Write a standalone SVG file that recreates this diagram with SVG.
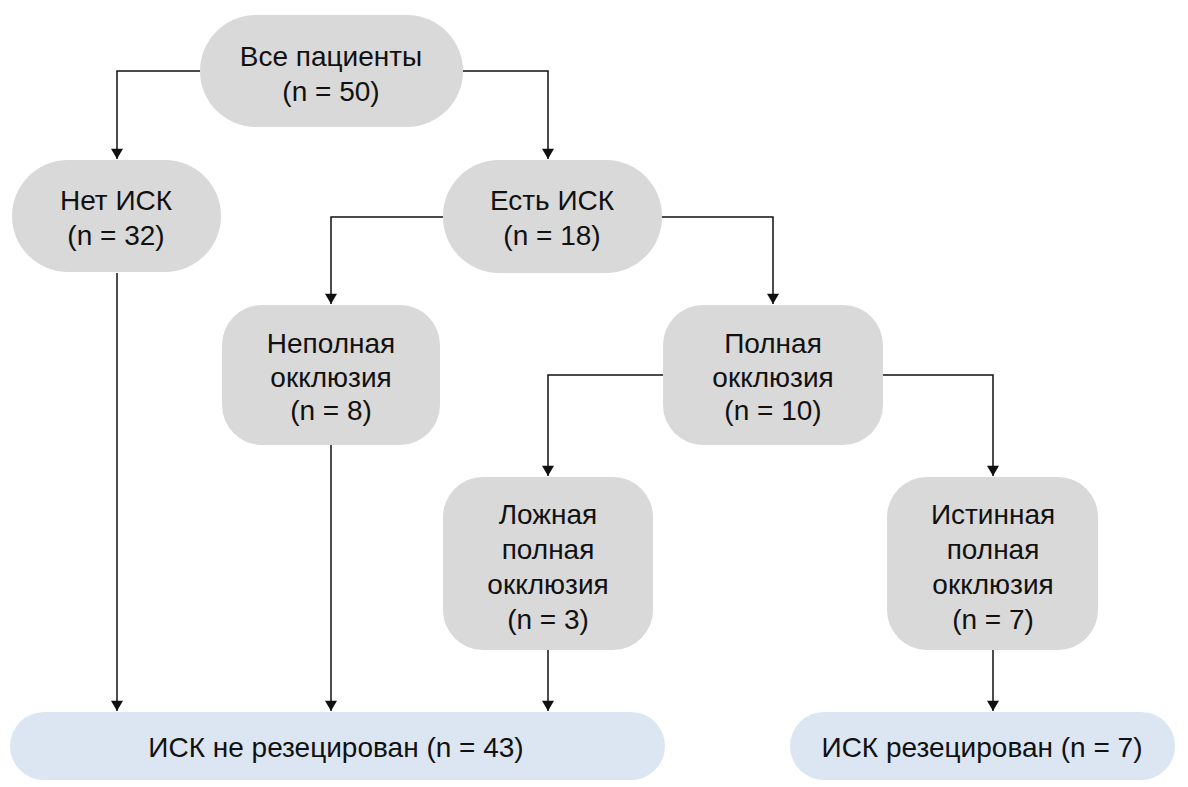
<svg xmlns="http://www.w3.org/2000/svg" width="1188" height="787" viewBox="0 0 1188 787">
<style>
.g{fill:#d9d9d9}
.b{fill:#dce6f2}
text{font-family:"Liberation Sans",Arial,sans-serif;font-size:28px;fill:#111;text-anchor:middle}
.c{fill:none;stroke:#111;stroke-width:1.5}
</style>
<defs>
<marker id="a" viewBox="0 0 12 14" refX="12" refY="7" markerWidth="14" markerHeight="12" markerUnits="userSpaceOnUse" orient="auto">
<path d="M0,0L12,7L0,14Z" fill="#111"/>
</marker>
</defs>
<rect width="1188" height="787" fill="#fff"/>
<g id="connectors">
<path class="c" d="M200,71H117V159" marker-end="url(#a)"/>
<path class="c" d="M463,71H548V159" marker-end="url(#a)"/>
<path class="c" d="M443,217H331V304" marker-end="url(#a)"/>
<path class="c" d="M662,217H773V304" marker-end="url(#a)"/>
<path class="c" d="M663,375H548V476" marker-end="url(#a)"/>
<path class="c" d="M883,375H993V476" marker-end="url(#a)"/>
<path class="c" d="M117,273V711" marker-end="url(#a)"/>
<path class="c" d="M331,445V711" marker-end="url(#a)"/>
<path class="c" d="M548,650V711" marker-end="url(#a)"/>
<path class="c" d="M993,650V711" marker-end="url(#a)"/>
</g>
<g id="n1"><rect class="g" x="200" y="15" width="263" height="112" rx="56"/><text x="331" y="66">Все пациенты</text><text x="331" y="101">(n = 50)</text></g>
<g id="n2"><rect class="g" x="12" y="160" width="209" height="112" rx="56"/><text x="116" y="210">Нет ИСК</text><text x="116" y="245">(n = 32)</text></g>
<g id="n3"><rect class="g" x="443" y="160" width="219" height="113" rx="56"/><text x="552" y="210">Есть ИСК</text><text x="552" y="245">(n = 18)</text></g>
<g id="n4"><rect class="g" x="222" y="305" width="218" height="140" rx="40"/><text x="331" y="353">Неполная</text><text x="331" y="387">окклюзия</text><text x="331" y="420">(n = 8)</text></g>
<g id="n5"><rect class="g" x="663" y="305" width="220" height="140" rx="40"/><text x="773" y="353">Полная</text><text x="773" y="387">окклюзия</text><text x="773" y="420">(n = 10)</text></g>
<g id="n6"><rect class="g" x="443" y="477" width="210" height="173" rx="40"/><text x="548" y="524">Ложная</text><text x="548" y="559">полная</text><text x="548" y="594">окклюзия</text><text x="548" y="629">(n = 3)</text></g>
<g id="n7"><rect class="g" x="887" y="477" width="211" height="173" rx="40"/><text x="993" y="524">Истинная</text><text x="993" y="559">полная</text><text x="993" y="594">окклюзия</text><text x="993" y="629">(n = 7)</text></g>
<g id="n8"><rect class="b" x="10" y="712" width="655" height="68" rx="34"/><text x="336" y="757">ИСК не резецирован (n = 43)</text></g>
<g id="n9"><rect class="b" x="790" y="712" width="385" height="68" rx="34"/><text x="982" y="757">ИСК резецирован (n = 7)</text></g>
</svg>
